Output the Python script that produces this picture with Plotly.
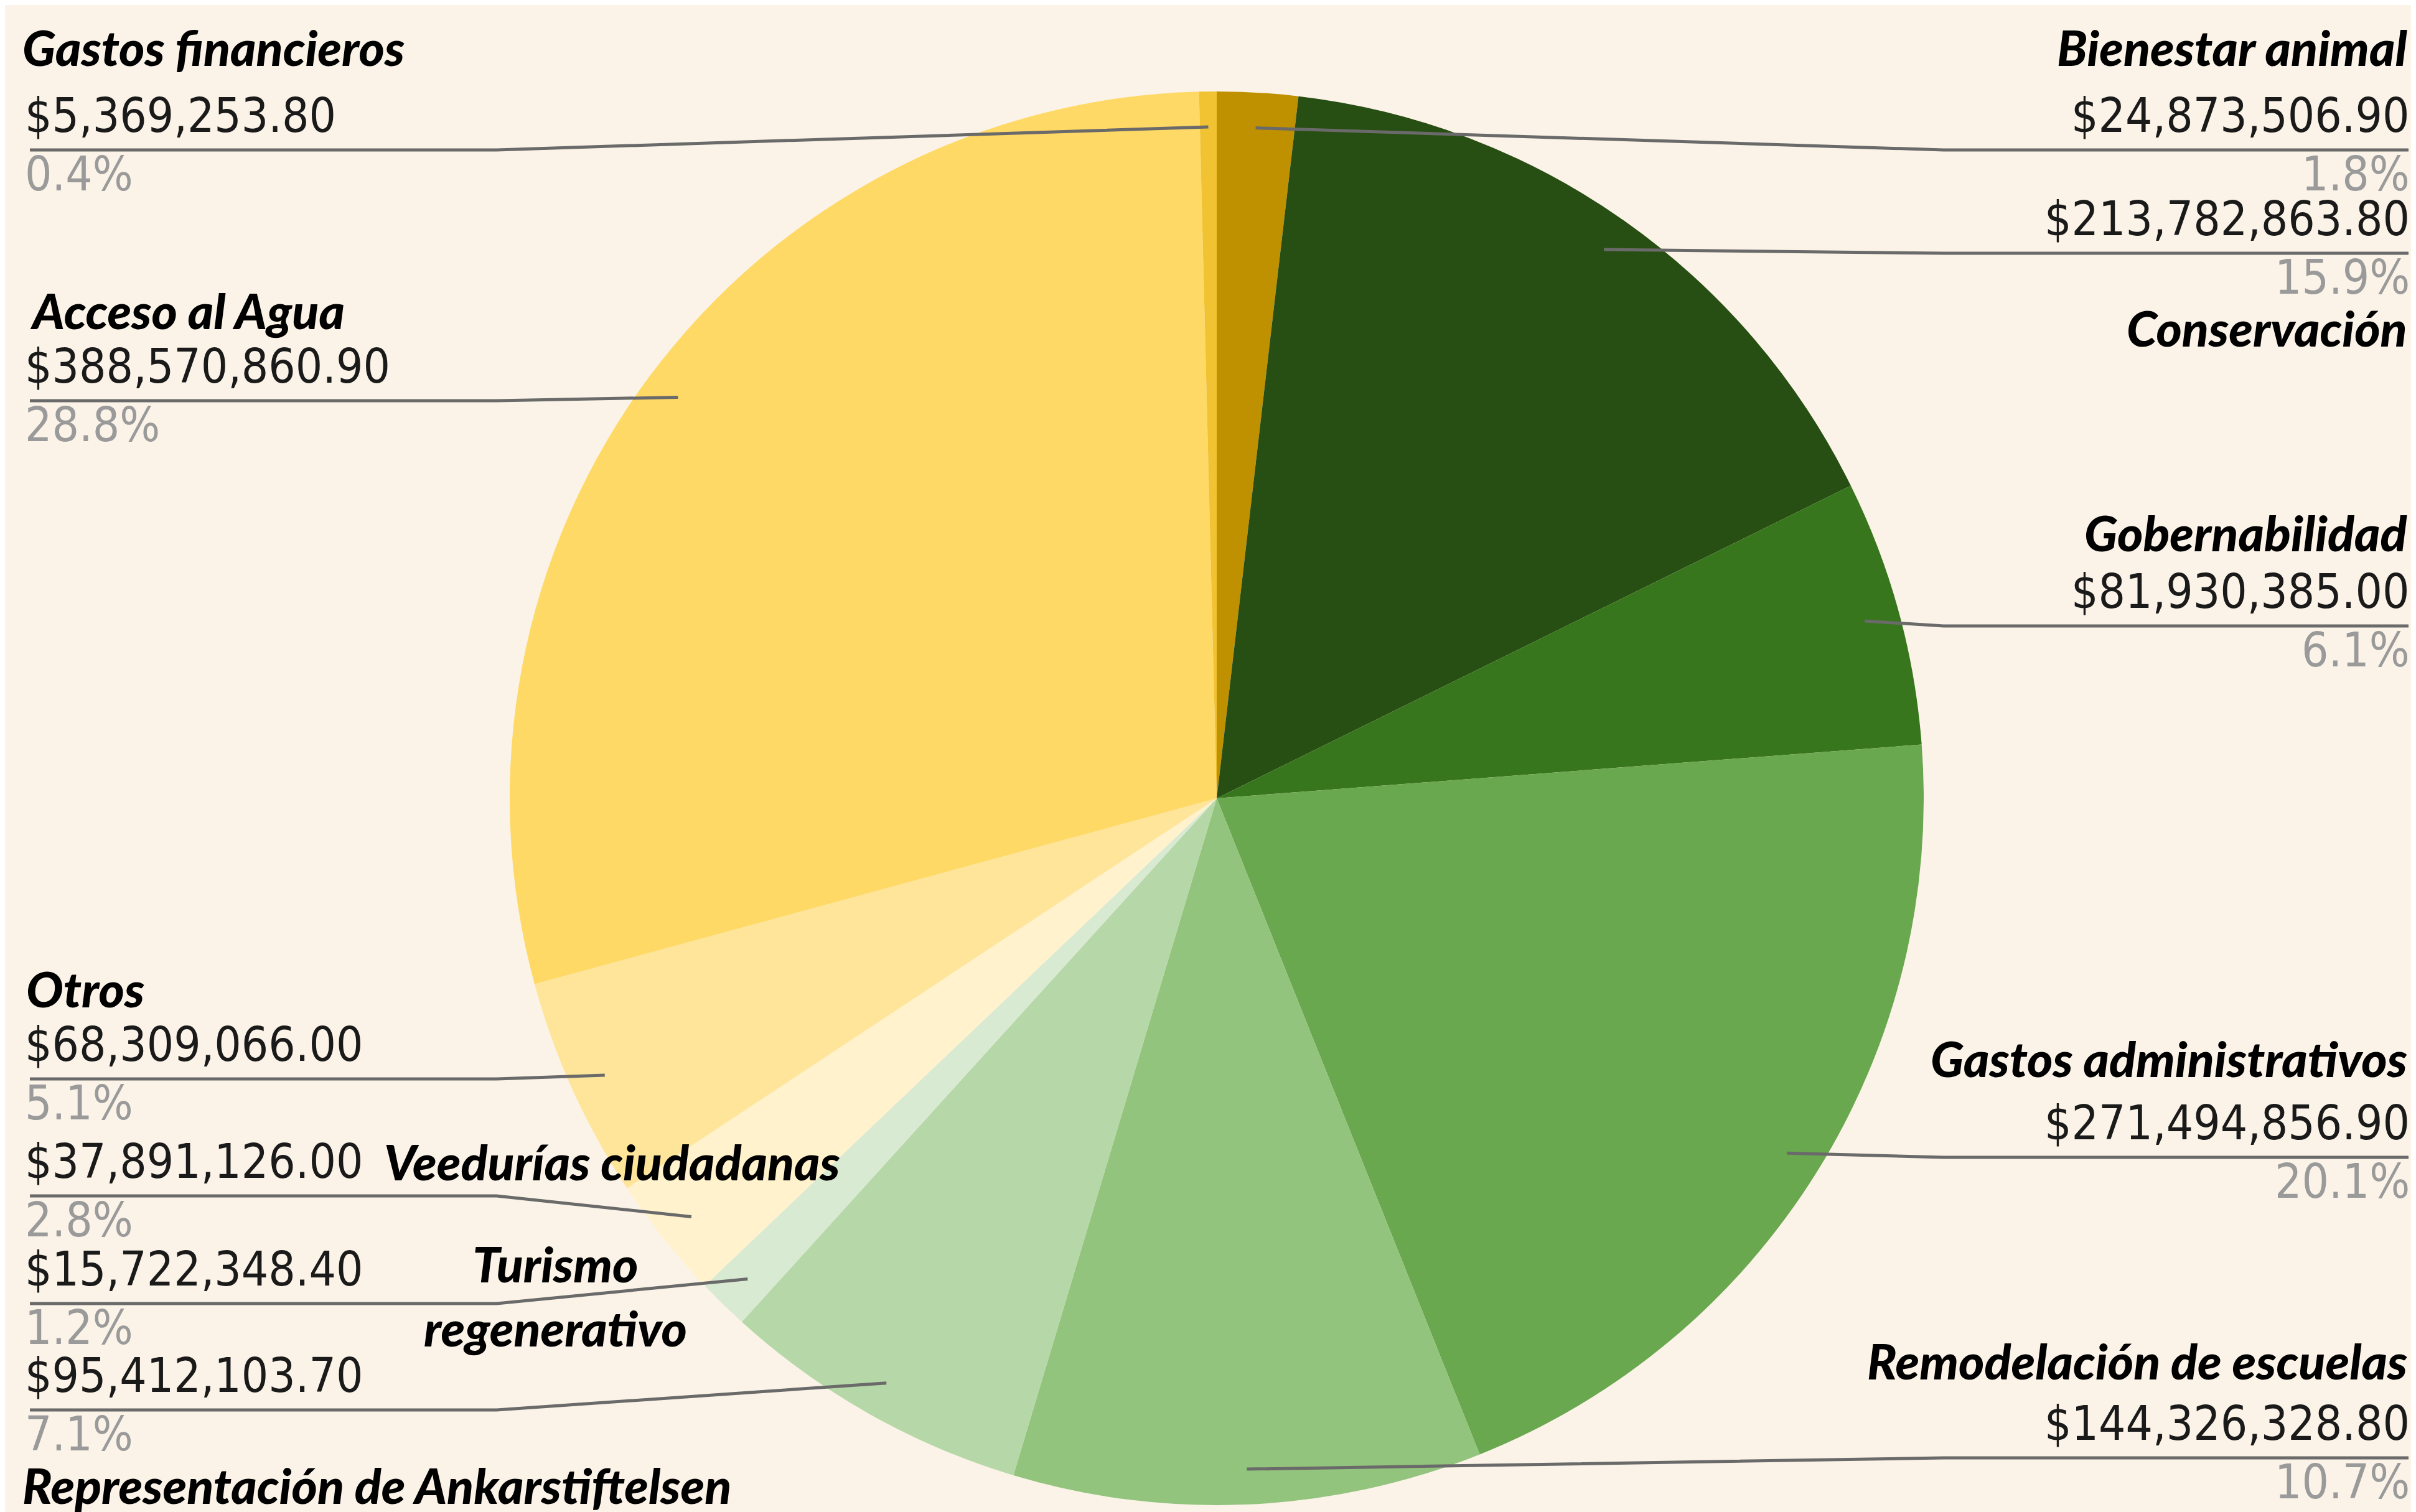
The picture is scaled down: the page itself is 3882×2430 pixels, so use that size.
import math
import plotly.graph_objects as go

W, H = 3882, 2430

categories = ["Bienestar animal", "Conservación", "Gobernabilidad", "Gastos administrativos",
              "Remodelación de escuelas", "Representación de Ankarstiftelsen", "Turismo regenerativo",
              "Veedurías ciudadanas", "Otros", "Acceso al Agua", "Gastos financieros"]
values = [24873506.90, 213782863.80, 81930385.00, 271494856.90, 144326328.80, 95412103.70,
          15722348.40, 37891126.00, 68309066.00, 388570860.90, 5369253.80]
colors = ["#BF9000", "#274E13", "#38761D", "#6AA84F", "#93C47D", "#B6D7A8",
          "#D9EAD3", "#FFF2CC", "#FFE599", "#FFD966", "#F1C232"]

# label layout (pixel positions of the leader-line row, name row and side)
side = ["R", "R", "R", "R", "R", "L", "L", "L", "L", "L", "L"]
line_y = [233, 399, 998, 1852, 2335, 2258, 2087, 1914, 1726, 636, 233]
name_y = [67, 518, 847, 1692, 2178, 2378, 2074, 1858, 1580, 490, 67]
name_x = [3862, 3862, 3862, 3862, 3862, 26, 884, 607, 32, 38, 26]
name_anchor = ["right", "right", "right", "right", "right", "left", "center", "left", "left", "left", "left"]
name_text = ["Bienestar animal", "Conservación", "Gobernabilidad", "Gastos administrativos",
             "Remodelación de escuelas", "Representación de Ankarstiftelsen", "Turismo<br>regenerativo",
             "Veedurías ciudadanas", "Otros", "Acceso al Agua", "Gastos financieros"]

CX, CY, R = 1947, 1275, 1136
BG = "#FBF3E7"
LEFT_X, RIGHT_X = 30, 3866
LINE_L, LINE_R = 40, 3862
ELBOW_L, ELBOW_R = 790, 3115

NAME_FONT = dict(family="Lato", size=79, color="#000000", weight=900, style="italic")
VAL_FONT = dict(family="DejaVu Sans Condensed, DejaVu Sans", size=76, color="#1a1a1a")
PCT_FONT = dict(family="DejaVu Sans Condensed, DejaVu Sans", size=76, color="#9a9a9a")

fig = go.Figure()
fig.add_trace(go.Pie(
    labels=categories, values=values, sort=False, direction="clockwise", rotation=0,
    marker=dict(colors=colors, line=dict(width=0)), textinfo="none", hoverinfo="label+value+percent",
    domain=dict(x=[(CX - R) / W, (CX + R) / W], y=[(H - CY - R) / H, (H - CY + R) / H]),
    showlegend=False,
))

total = sum(values)
cum = 0.0
dots_x, dots_y = [], []
annotations = []
shapes = []
for i, v in enumerate(values):
    mid = (cum + v / 2) / total
    cum += v
    ang = 2 * math.pi * mid
    dx = CX + 0.95 * R * math.sin(ang)
    dy = CY - 0.95 * R * math.cos(ang)
    dots_x.append(dx)
    dots_y.append(dy)
    ly = line_y[i]
    if side[i] == "R":
        pts = [(dx, dy), (max(ELBOW_R, dx), ly), (LINE_R, ly)]
        tx, anc = RIGHT_X, "right"
    else:
        pts = [(dx, dy), (min(ELBOW_L, dx), ly), (LINE_L, ly)]
        tx, anc = LEFT_X, "left"
    path = "M " + " L ".join(f"{x:.1f},{y:.1f}" for x, y in pts)
    shapes.append(dict(type="path", path=path, xref="x", yref="y",
                       line=dict(color="#6a6a6a", width=5), layer="above"))
    pct = v / total * 100
    annotations.append(dict(x=tx, y=ly - 56, xref="x", yref="y", xanchor=anc, yanchor="middle",
                            text=f"${v:,.2f}", showarrow=False, font=VAL_FONT))
    annotations.append(dict(x=tx, y=ly + 38, xref="x", yref="y", xanchor=anc, yanchor="middle",
                            text=f"{pct:.1f}%", showarrow=False, font=PCT_FONT))
    annotations.append(dict(x=name_x[i], y=name_y[i], xref="x", yref="y", xanchor=name_anchor[i],
                            yanchor="middle", text=name_text[i], showarrow=False, font=NAME_FONT,
                            align="center"))

fig.add_trace(go.Scatter(x=dots_x, y=dots_y, mode="markers", hoverinfo="skip", showlegend=False,
                         marker=dict(size=16, color="#9a9a9a", line=dict(width=0))))

fig.update_layout(
    width=W, height=H, margin=dict(l=0, r=0, t=0, b=0),
    paper_bgcolor=BG, plot_bgcolor="rgba(0,0,0,0)",
    xaxis=dict(range=[0, W], visible=False, fixedrange=True),
    yaxis=dict(range=[H, 0], visible=False, fixedrange=True),
    shapes=shapes, annotations=annotations,
)

fig.write_html("out.html")
